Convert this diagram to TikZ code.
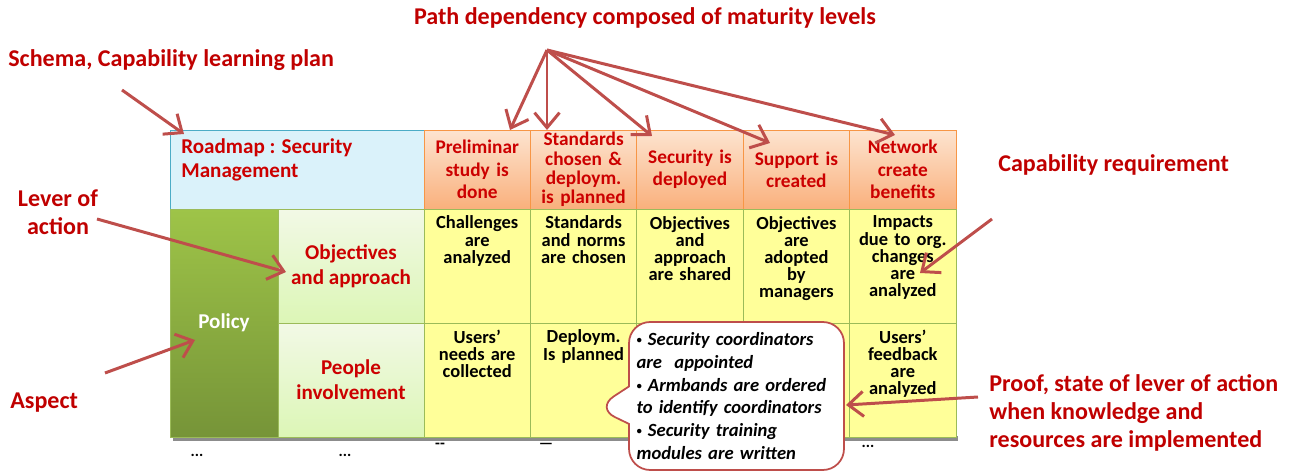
\documentclass[tikz,border=0pt]{standalone}
\usepackage{fontspec}
\setmainfont{Carlito}
\usetikzlibrary{arrows.meta,positioning,shapes.callouts}

\definecolor{notered}{RGB}{192,0,0}
\definecolor{headred}{RGB}{204,0,0}
\definecolor{arrowred}{RGB}{190,78,75}
\definecolor{skyfill}{RGB}{218,242,250}
\definecolor{skyline}{RGB}{75,172,198}
\definecolor{peachtop}{RGB}{253,228,208}
\definecolor{peachbot}{RGB}{249,176,124}
\definecolor{peachline}{RGB}{247,150,70}
\definecolor{olivetop}{RGB}{158,196,72}
\definecolor{olivebot}{RGB}{118,148,56}
\definecolor{mintop}{RGB}{242,249,230}
\definecolor{minbot}{RGB}{220,246,182}
\definecolor{cellyellow}{RGB}{255,255,153}
\definecolor{cellline}{RGB}{155,187,89}

\newcommand{\smallbul}{\raisebox{0.2ex}{\fontsize{6}{6}\selectfont•}}

\tikzset{
  note/.style={font=\fontsize{13.7}{16}\selectfont\bfseries, text=notered, inner sep=0pt},
  pointer/.style={draw=arrowred, line width=1.7pt, -{Straight Barb[length=3mm,width=5mm]}},
  hdcell/.style={draw=peachline, top color=peachtop, bottom color=peachbot, minimum width=2.128cm, minimum height=1.58cm, inner sep=0pt,
    text width=2cm, align=center, text=headred, font=\fontsize{11}{12.75}\selectfont\bfseries},
  ycell/.style={draw=cellline, fill=cellyellow, minimum width=2.128cm, minimum height=2.28cm, inner sep=0pt},
  ytext/.style={text width=2cm, align=center, inner sep=0pt, font=\fontsize{10.5}{9.7}\selectfont\bfseries},
  aspcell/.style={draw=cellline, top color=mintop, bottom color=minbot, minimum width=2.92cm, minimum height=2.28cm, inner sep=0pt,
    align=center, text=headred, font=\fontsize{12}{14.2}\selectfont\bfseries},
  dots/.style={font=\fontsize{9}{10}\selectfont\bfseries, inner sep=0pt},
  callbox/.style={rectangle callout, draw=arrowred, line width=1pt, fill=white, rounded corners=12pt, minimum width=4.3cm, minimum height=2.96cm,
    callout pointer width=0.75cm, align=left, text width=4cm, font=\fontsize{10.6}{12.9}\selectfont\bfseries\itshape},
}

\begin{document}
\begin{tikzpicture}[x=0.02cm, y=-0.02cm]
  \useasboundingbox (0,0) rectangle (1295,472);

  % shadow under the table
  \fill[black!45] (173,436) rectangle (958,441);

  % header row
  \node[draw=skyline, fill=skyfill, minimum width=5.08cm, minimum height=1.58cm, inner sep=0pt] (roadmap) at (297,169.5) {};
  \node[anchor=west, align=left, text=headred, inner sep=0pt, font=\fontsize{12}{13.6}\selectfont\bfseries] (roadmaptxt) at (181,160) {Roadmap : Security\\Management};
  \node[hdcell] (hd1) at (477.2,169.5) {Preliminar\\study is\\done};
  \node[hdcell, font=\fontsize{11}{11}\selectfont\bfseries] (hd2) at (583.6,169.5) {Standards\\chosen \&\\deploym.\\is planned};
  \node[hdcell] (hd3) at (690.0,169.5) {Security is\\deployed};
  \node[hdcell] (hd4) at (796.4,169.5) {Support is\\created};
  \node[hdcell] (hd5) at (902.8,169.5) {Network\\create\\benefits};

  % aspect and levers
  \node[draw=cellline, top color=olivetop, bottom color=olivebot, minimum width=2.16cm, minimum height=4.56cm, inner sep=0pt,
    text=white, font=\fontsize{12}{14}\selectfont\bfseries] (policy) at (224,323) {Policy};
  \node[aspcell] (obj) at (351,266) {Objectives\\and approach};
  \node[aspcell] (ppl) at (351,380) {People\\involvement};

  % first row
  \node[ycell] (c11) at (477.2,266) {};
  \node[ycell] (c12) at (583.6,266) {};
  \node[ycell] (c13) at (690.0,266) {};
  \node[ycell] (c14) at (796.4,266) {};
  \node[ycell] (c15) at (902.8,266) {};
  \node[ytext, below=4pt of c11.north] (t11) {Challenges\\are\\analyzed};
  \node[ytext, below=4pt of c12.north] (t12) {Standards\\and norms\\are chosen};
  \node[ytext, below=4pt of c13.north] (t13) {Objectives\\and\\approach\\are shared};
  \node[ytext, below=4pt of c14.north] (t14) {Objectives\\are\\adopted\\by\\managers};
  \node[ytext, below=4pt of c15.north] (t15) {Impacts\\due to org.\\changes\\are\\analyzed};

  % second row
  \node[ycell] (c21) at (477.2,380) {};
  \node[ycell] (c22) at (583.6,380) {};
  \node[ycell] (c23) at (690.0,380) {};
  \node[ycell] (c24) at (796.4,380) {};
  \node[ycell] (c25) at (902.8,380) {};
  \node[ytext, below=4pt of c21.north] (t21) {Users'\\needs are\\collected};
  \node[ytext, below=4pt of c22.north] (t22) {Deploym.\\Is planned};
  \node[ytext, below=4pt of c25.north] (t25) {Users'\\feedback\\are\\analyzed};

  % continuation marks
  \node[dots] (dots1) at (197,455) {...};
  \node[dots] (dots2) at (345,455) {...};
  \node[dots] (dots3) at (440,446) {{-}{-}};
  \node[dots] (dots4) at (546,446) {---};
  \node[dots] (dots5) at (868,446) {...};

  % proof callout
  \node[callbox, callout absolute pointer={(596,408)}] (proofbox) at (736.5,396)
    {\smallbul\ Security coordinators\\are\ \ appointed\\\smallbul\ Armbands are ordered\\to identify coordinators\\\smallbul\ Security training\\modules are written};

  % annotations
  \node[note] (pathlbl) at (645,18) {Path dependency composed of maturity levels};
  \node[note, anchor=west] (schemalbl) at (8,60) {Schema, Capability learning plan};
  \node[note, align=center] (leverlbl) at (58,212) {Lever of\\action};
  \node[note, anchor=west] (aspectlbl) at (10,403) {Aspect};
  \node[note, anchor=west] (capalbl) at (998,165) {Capability requirement};
  \node[note, anchor=west, align=left] (prooflbl) at (989,413) {Proof, state of lever of action\\when knowledge and\\resources are implemented};

  \coordinate (pathroot) at (547,50);
  \coordinate (lvl1) at (510,130);
  \coordinate (lvl2) at (547,130);
  \coordinate (lvl3) at (652,136);
  \coordinate (lvl4) at (770,143);
  \coordinate (lvl5) at (895,135);
  \coordinate (schematail) at (122,90);
  \coordinate (schemahead) at (184,134);
  \coordinate (levertail) at (97,219);
  \coordinate (leverhead) at (286,272);
  \coordinate (aspecttail) at (105,373);
  \coordinate (aspecthead) at (195,340);
  \coordinate (capatail) at (992,219);
  \coordinate (capahead) at (920,273);
  \coordinate (prooftail) at (978,397);
  \coordinate (proofhead) at (846,405);

  \draw[pointer] (pathroot) -- (lvl1);
  \draw[pointer] (pathroot) -- (lvl2);
  \draw[pointer] (pathroot) -- (lvl3);
  \draw[pointer] (pathroot) -- (lvl4);
  \draw[pointer] (pathroot) -- (lvl5);
  \draw[pointer] (schematail) -- (schemahead);
  \draw[pointer] (levertail) -- (leverhead);
  \draw[pointer] (aspecttail) -- (aspecthead);
  \draw[pointer] (capatail) -- (capahead);
  \draw[pointer] (prooftail) -- (proofhead);
\end{tikzpicture}
\end{document}
